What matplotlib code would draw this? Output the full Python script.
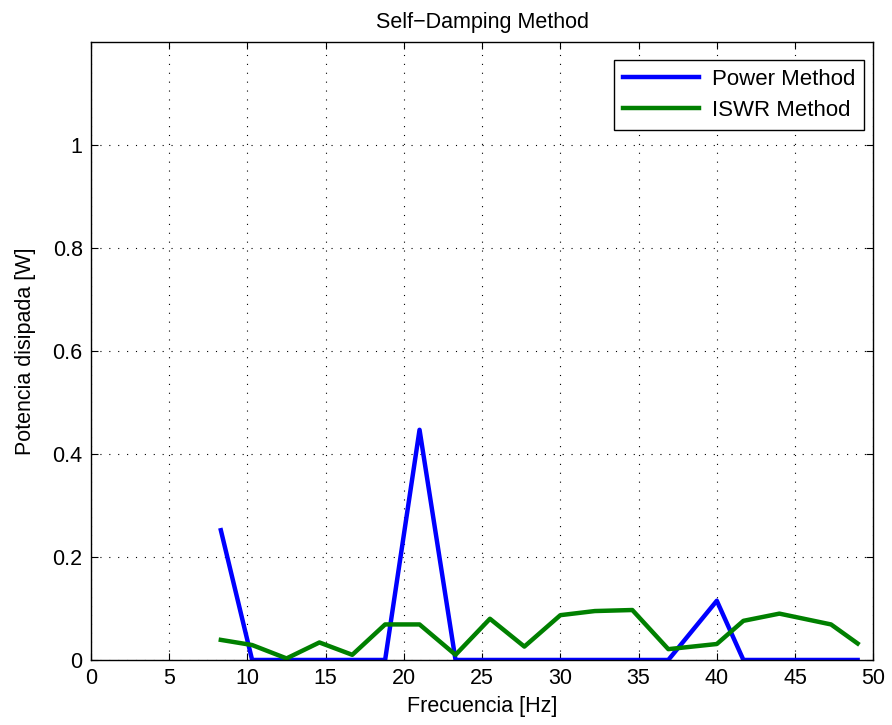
import numpy as np
import matplotlib.pyplot as plt

plt.rcParams['font.family'] = ['Liberation Sans', 'DejaVu Sans']

freq = [8.3, 10.3, 12.5, 14.6, 16.7, 18.8, 21.0, 23.3, 25.5, 27.7, 30.0,
        32.2, 34.6, 36.9, 40.0, 41.7, 44.0, 47.3, 49.0]
power = [0.252, 0.0, 0.0, 0.0, 0.0, 0.0, 0.447, 0.0, 0.0, 0.0, 0.0,
         0.0, 0.0, 0.0, 0.115, 0.0, 0.0, 0.0, 0.0]
iswr = [0.039, 0.029, 0.003, 0.034, 0.010, 0.069, 0.069, 0.010, 0.080, 0.026, 0.087,
        0.095, 0.097, 0.021, 0.031, 0.076, 0.090, 0.069, 0.032]

fig = plt.figure(figsize=(8.92, 7.25), dpi=100)
ax = fig.add_axes([0.102, 0.0897, 0.877, 0.8523])
ax.plot(freq, power, color='#0000ff', lw=3.2, label='Power Method')
ax.plot(freq, iswr, color='#008000', lw=3.2, label='ISWR Method')

ax.set_xlim(0, 50)
ax.set_ylim(0, 1.2)
ax.set_xticks(np.arange(0, 51, 5))
ax.set_yticks([0, 0.2, 0.4, 0.6, 0.8, 1])
ax.set_yticklabels(['0', '0.2', '0.4', '0.6', '0.8', '1'])
ax.grid(True, color='black', linestyle=(0, (1, 7)), linewidth=0.8)
ax.tick_params(direction='in', top=True, right=True, labelsize=15.5, length=5, pad=6)
for s in ax.spines.values():
    s.set_linewidth(1)

ax.set_xlabel('Frecuencia [Hz]', fontsize=15.5, labelpad=5)
ax.set_ylabel('Potencia disipada [W]', fontsize=15.5, labelpad=12)
ax.set_title('Self\u2212Damping Method', fontsize=15.5, pad=10)

leg = ax.legend(loc='upper right', bbox_to_anchor=(0.9885, 0.971), fontsize=16,
                fancybox=False, framealpha=1, edgecolor='black', handlelength=3.4,
                handletextpad=0.6, borderaxespad=0, labelspacing=0.45)
leg.get_frame().set_linewidth(1)

fig.savefig('out.png', dpi=100)
